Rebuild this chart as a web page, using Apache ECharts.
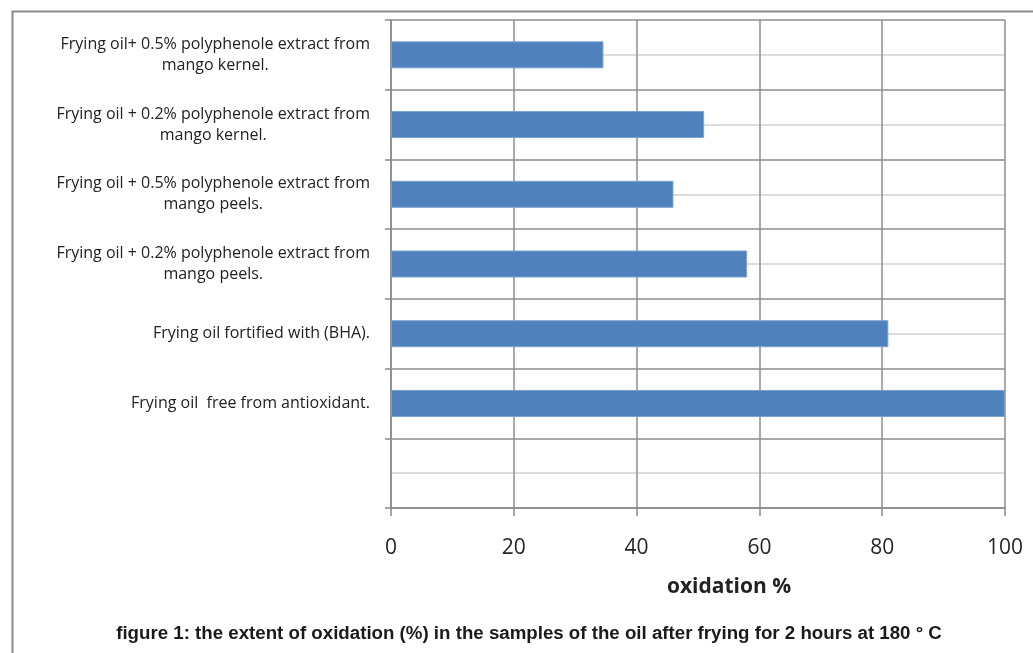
<!DOCTYPE html>
<html>
<head>
<meta charset="utf-8">
<title>Oxidation after frying</title>
<script src="https://cdn.jsdelivr.net/npm/echarts@6/dist/echarts.min.js"></script>
<style>
  html, body { margin: 0; padding: 0; background: #ffffff; }
  #chart { width: 1033px; height: 653px; }
</style>
</head>
<body>
<div id="chart"></div>
<script>
// Samples, listed bottom to top on the category axis (first slot is an empty band)
const categories = [
  '',
  'Frying oil  free from antioxidant.',
  'Frying oil fortified with (BHA).',
  'Frying oil + 0.2% polyphenole extract from\nmango peels.',
  'Frying oil + 0.5% polyphenole extract from\nmango peels.',
  'Frying oil + 0.2% polyphenole extract from\nmango kernel.',
  'Frying oil+ 0.5% polyphenole extract from\nmango kernel.'
];
// Oxidation (%) for each sample, same order
const oxidation = [null, 100, 81, 58, 46, 51, 34.6];
const xTicks = [0, 20, 40, 60, 80, 100];
const axisTitle = 'oxidation %';
const caption = 'figure 1: the extent of oxidation (%) in the samples of the oil after frying for 2 hours at 180 \u00b0 C';

const chart = echarts.init(document.getElementById('chart'), null, { renderer: 'canvas' });

const labelFont = '"Open Sans", Lato, sans-serif';

chart.setOption({
  backgroundColor: '#ffffff',
  animation: false,
  grid: { left: 391, right: 28, top: 20, bottom: 145, containLabel: false },
  xAxis: {
    type: 'value',
    min: xTicks[0],
    max: xTicks[xTicks.length - 1],
    interval: xTicks[1] - xTicks[0],
    axisLine: { show: true, lineStyle: { color: '#8a8a8a', width: 1.5 } },
    axisTick: { show: true, length: 8, lineStyle: { color: '#8a8a8a', width: 1.5 } },
    axisLabel: { margin: 30, color: '#262626', fontSize: 21, fontFamily: labelFont },
    splitLine: { show: true, lineStyle: { color: '#8e8e8e', width: 1.5 } }
  },
  yAxis: [
    {
      type: 'category',
      data: categories,
      boundaryGap: true,
      axisLine: { show: true, onZero: false, lineStyle: { color: '#8a8a8a', width: 1.5 } },
      axisTick: { show: true, length: 6, alignWithLabel: false, lineStyle: { color: '#8a8a8a', width: 1.5 } },
      splitLine: { show: false },
      axisLabel: {
        margin: 21,
        color: '#222222',
        fontSize: 16,
        fontFamily: labelFont,
        lineHeight: 21,
        formatter: function (v) {
          if (!v) return '';
          return v.split('\n').map(function (s) { return '{c|' + s + '}'; }).join('\n');
        },
        rich: { c: { align: 'center', fontSize: 16, fontFamily: labelFont, color: '#222222', lineHeight: 21 } }
      }
    },
    {
      // helper axis for the band boundaries (dark) and band centres (light)
      type: 'value',
      min: 0,
      max: 14,
      interval: 1,
      show: true,
      axisLine: { show: false },
      axisTick: { show: false },
      axisLabel: { show: false },
      splitLine: { show: true, lineStyle: { color: ['#8e8e8e', '#d2d2d2'], width: 1.5 } }
    }
  ],
  series: [
    {
      type: 'bar',
      yAxisIndex: 0,
      data: oxidation,
      barWidth: 27,
      itemStyle: { color: '#4f81bd', borderColor: '#7aa1d2', borderWidth: 1 },
      z: 3
    }
  ],
  graphic: [
    {
      type: 'rect',
      left: 10, top: 9,
      shape: { width: 1100, height: 700 },
      style: { fill: null, stroke: '#8c8c8c', lineWidth: 2 },
      silent: true
    },
    {
      type: 'text',
      x: 729, y: 587,
      style: {
        text: axisTitle,
        fill: '#222222',
        font: 'bold 21px ' + labelFont,
        textAlign: 'center',
        textVerticalAlign: 'middle'
      }
    },
    {
      type: 'text',
      x: 529, y: 634,
      style: {
        text: caption,
        fill: '#1a1a1a',
        font: 'bold 18.7px "Liberation Sans Narrow", "Liberation Sans", Arial, sans-serif',
        textAlign: 'center',
        textVerticalAlign: 'middle'
      }
    }
  ]
});
</script>
</body>
</html>
